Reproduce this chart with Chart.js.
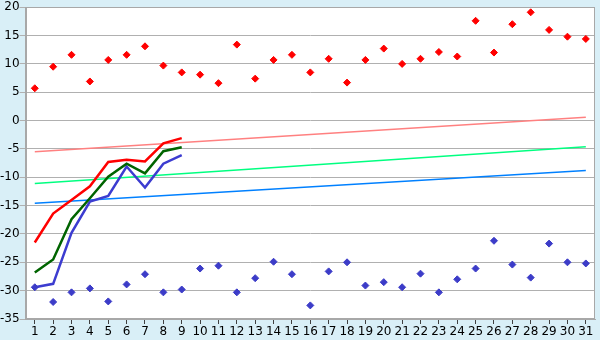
<!DOCTYPE html>
<html>
<head>
<meta charset="utf-8">
<script src="https://cdn.jsdelivr.net/npm/chart.js@4.4.1/dist/chart.umd.min.js"></script>
<style>
  html, body { margin: 0; padding: 0; background: #d9eff7; }
  #wrap { width: 600px; height: 340px; }
</style>
</head>
<body>
<div id="wrap"><canvas id="c"></canvas></div>
<script>
const days = Array.from({ length: 31 }, (_, i) => String(i + 1));

const maxPoints = [5.7, 9.5, 11.6, 6.9, 10.7, 11.6, 13.1, 9.7, 8.5, 8.1,
  6.6, 13.4, 7.4, 10.7, 11.6, 8.5, 10.9, 6.7, 10.7, 12.7,
  10.0, 10.9, 12.1, 11.3, 17.6, 12.0, 17.0, 19.1, 16.0, 14.8, 14.4];

const minPoints = [-29.4, -32.0, -30.3, -29.6, -31.9, -28.9, -27.1, -30.3, -29.8, -26.1,
  -25.6, -30.3, -27.8, -24.9, -27.1, -32.6, -26.6, -25.0, -29.1, -28.5,
  -29.4, -27.0, -30.3, -28.0, -26.1, -21.2, -25.4, -27.7, -21.7, -25.0, -25.2];

const redLine = [-21.5, -16.4, -14.0, -11.6, -7.3, -6.9, -7.2, -4.0, -3.1];
const greenLine = [-26.8, -24.5, -17.4, -13.7, -9.9, -7.6, -9.3, -5.4, -4.7];
const blueLine = [-29.4, -28.8, -19.8, -14.3, -13.3, -8.1, -11.8, -7.6, -6.1];

// trend lines: only the end values, day 1 and day 31
const redTrend = [-5.5, 0.6];
const greenTrend = [-11.1, -4.6];
const blueTrend = [-14.6, -8.8];

function ends(pair) {
  const arr = Array(days.length).fill(null);
  arr[0] = pair[0];
  arr[days.length - 1] = pair[1];
  return arr;
}

// white plot area + grey frame round it
const frame = {
  id: "frame",
  beforeDraw(chart) {
    const { ctx, chartArea: a } = chart;
    ctx.save();
    ctx.fillStyle = "#ffffff";
    ctx.fillRect(a.left, a.top, a.right - a.left, a.bottom - a.top);
    ctx.restore();
  },
  afterDatasetsDraw(chart) {
    const { ctx, chartArea: a } = chart;
    ctx.save();
    ctx.strokeStyle = "#a8a8a8";
    ctx.lineWidth = 1;
    ctx.strokeRect(Math.round(a.left) + 0.5, Math.round(a.top) + 0.5,
      Math.round(a.right - a.left) - 1, Math.round(a.bottom - a.top) - 1);
    ctx.restore();
  },
};

const trend = (data, color) => ({
  data: ends(data),
  borderColor: color,
  borderWidth: 1.5,
  pointRadius: 0,
  spanGaps: true,
  order: 3,
});

const run = (data, color) => ({
  data,
  borderColor: color,
  borderWidth: 2.5,
  pointRadius: 0,
  tension: 0,
  order: 2,
});

const dots = (data, color) => ({
  data,
  showLine: false,
  pointStyle: "rectRot",
  pointRadius: 3.5,
  backgroundColor: color,
  borderColor: color,
  borderWidth: 1,
  order: 1,
});

new Chart(document.getElementById("c"), {
  type: "line",
  data: {
    labels: days,
    datasets: [
      trend(redTrend, "#ff8080"),
      trend(greenTrend, "#00ff80"),
      trend(blueTrend, "#0080ff"),
      run(redLine, "#ff0000"),
      run(greenLine, "#006400"),
      run(blueLine, "#3c3cd0"),
      dots(maxPoints, "#ff0000"),
      dots(minPoints, "#3c3cc8"),
    ],
  },
  plugins: [frame],
  options: {
    responsive: true,
    maintainAspectRatio: false,
    animation: false,
    layout: { padding: { top: 1, right: 5, left: 0, bottom: 0 } },
    plugins: { legend: { display: false }, tooltip: { enabled: false } },
    scales: {
      x: {
        offset: true,
        grid: { drawOnChartArea: false, drawTicks: true, tickLength: 5, color: "#404040" },
        border: { color: "#a8a8a8" },
        ticks: { color: "#000", font: { family: "DejaVu Sans", size: 12, lineHeight: 1 }, padding: 2, maxRotation: 0, autoSkip: false },
      },
      y: {
        min: -35,
        max: 20,
        grid: { color: "#b0b0b0", tickLength: 6, drawTicks: true },
        border: { color: "#a8a8a8" },
        ticks: { stepSize: 5, color: "#000", font: { family: "DejaVu Sans", size: 12 }, padding: 0 },
      },
    },
  },
});
</script>
</body>
</html>
